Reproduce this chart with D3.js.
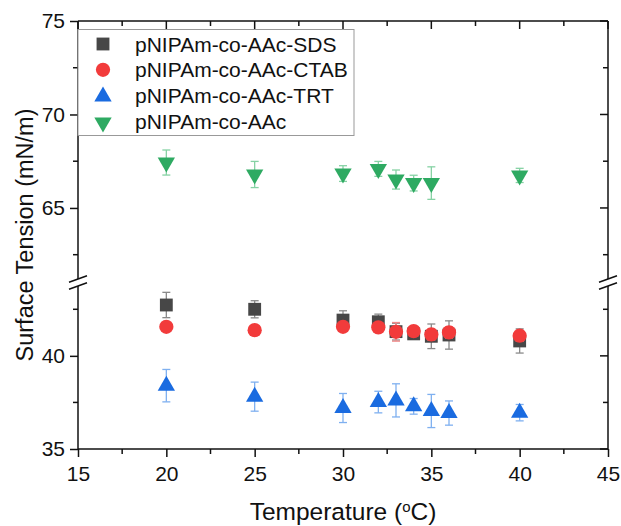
<!DOCTYPE html>
<html>
<head>
<meta charset="utf-8">
<script src="https://cdn.jsdelivr.net/npm/d3@7"></script>
<style>
  html, body { margin: 0; padding: 0; background: #fff; }
  svg text { font-family: "Liberation Sans", Arial, sans-serif; fill: #111; }
</style>
</head>
<body>
<svg id="chart" width="621" height="526"></svg>
<script>
// Temperatures (°C) at which surface tension was measured
const temps = [20, 25, 30, 32, 33, 34, 35, 36, 40];
const tempsAAc = [20, 25, 30, 32, 33, 34, 35, 40];

// Surface tension (mN/m) and standard deviations
const sdsValues  = [42.73, 42.50, 41.92, 41.83, 41.30, 41.18, 41.05, 41.12, 40.80];
const sdsErrors  = [0.68, 0.46, 0.50, 0.41, 0.45, 0.20, 0.66, 0.76, 0.65];
const ctabValues = [41.56, 41.38, 41.56, 41.53, 41.29, 41.33, 41.15, 41.26, 41.08];
const ctabErrors = [0.05, 0.05, 0.20, 0.15, 0.50, 0.15, 0.30, 0.30, 0.30];
const trtValues  = [38.40, 37.81, 37.20, 37.52, 37.61, 37.29, 37.04, 36.93, 36.95];
const trtErrors  = [0.87, 0.78, 0.78, 0.58, 0.89, 0.42, 0.89, 0.65, 0.44];
const aacValues  = [67.43, 66.79, 66.84, 67.09, 66.52, 66.33, 66.33, 66.74];
const aacErrors  = [0.67, 0.70, 0.42, 0.40, 0.51, 0.42, 0.87, 0.38];

const seriesNames = ["pNIPAm-co-AAc-SDS", "pNIPAm-co-AAc-CTAB", "pNIPAm-co-AAc-TRT", "pNIPAm-co-AAc"];

const xTicks = [15, 20, 25, 30, 35, 40, 45];
const yTicksLower = [35, 40];
const yTicksUpper = [65, 70, 75];

const svg = d3.select("#chart");

const plotL = 78, plotR = 608, plotT = 21, plotB = 449;
const breakLowY = 286, breakHighY = 279;

const x = d3.scaleLinear().domain([15, 45]).range([plotL, plotR]);
const yLow = d3.scaleLinear().domain([35, 43.75]).range([plotB, breakLowY]);
const yHigh = d3.scaleLinear().domain([61.2, 75]).range([breakHighY, plotT]);
const y = v => v >= 61.2 ? yHigh(v) : yLow(v);

const axisColor = "#111";
const tickFont = "21px";

// Bottom axis (ticks outward)
const xAxis = d3.axisBottom(x).tickValues(xTicks).tickSize(8).tickPadding(9).tickFormat(d3.format("d"));
const gx = svg.append("g").attr("transform", `translate(0,${plotB})`).call(xAxis);
gx.select(".domain").remove();
gx.selectAll("line").attr("stroke", axisColor).attr("stroke-width", 1.5);
gx.selectAll("text").style("font-size", tickFont);
const xMinor = d3.range(17.5, 45, 5);
svg.append("g").selectAll("line").data(xMinor).join("line")
  .attr("x1", d => x(d)).attr("x2", d => x(d))
  .attr("y1", plotB).attr("y2", plotB + 5)
  .attr("stroke", axisColor).attr("stroke-width", 1.5);

// Top axis (ticks inward, no labels)
const topTicks = svg.append("g");
topTicks.selectAll("line.maj").data(xTicks).join("line").attr("class", "maj")
  .attr("x1", d => x(d)).attr("x2", d => x(d))
  .attr("y1", plotT).attr("y2", plotT + 8)
  .attr("stroke", axisColor).attr("stroke-width", 1.5);
topTicks.selectAll("line.min").data(xMinor).join("line").attr("class", "min")
  .attr("x1", d => x(d)).attr("x2", d => x(d))
  .attr("y1", plotT).attr("y2", plotT + 5)
  .attr("stroke", axisColor).attr("stroke-width", 1.5);

// Left axis: two segments with outward ticks
function leftSegment(scale, ticks, minors) {
  const ax = d3.axisLeft(scale).tickValues(ticks).tickSize(8).tickPadding(5).tickFormat(d3.format("d"));
  const g = svg.append("g").attr("transform", `translate(${plotL},0)`).call(ax);
  g.select(".domain").remove();
  g.selectAll("line").attr("stroke", axisColor).attr("stroke-width", 1.5);
  g.selectAll("text").style("font-size", tickFont);
  svg.append("g").selectAll("line").data(minors).join("line")
    .attr("x1", plotL - 5).attr("x2", plotL)
    .attr("y1", d => scale(d)).attr("y2", d => scale(d))
    .attr("stroke", axisColor).attr("stroke-width", 1.5);
}
leftSegment(yLow, yTicksLower, [37.5, 42.5]);
leftSegment(yHigh, yTicksUpper, [62.5, 67.5, 72.5]);

// Right axis: inward ticks
function rightSegment(scale, ticks, minors) {
  svg.append("g").selectAll("line").data(ticks).join("line")
    .attr("x1", plotR - 8).attr("x2", plotR)
    .attr("y1", d => scale(d)).attr("y2", d => scale(d))
    .attr("stroke", axisColor).attr("stroke-width", 1.5);
  svg.append("g").selectAll("line").data(minors).join("line")
    .attr("x1", plotR - 5).attr("x2", plotR)
    .attr("y1", d => scale(d)).attr("y2", d => scale(d))
    .attr("stroke", axisColor).attr("stroke-width", 1.5);
}
rightSegment(yLow, yTicksLower, [37.5, 42.5]);
rightSegment(yHigh, yTicksUpper, [62.5, 67.5, 72.5]);

// Frame lines
const frame = svg.append("g").attr("stroke", axisColor).attr("stroke-width", 1.5).attr("fill", "none");
frame.append("line").attr("x1", plotL).attr("x2", plotR).attr("y1", plotB).attr("y2", plotB);
frame.append("line").attr("x1", plotL).attr("x2", plotR).attr("y1", plotT).attr("y2", plotT);
[plotL, plotR].forEach(xx => {
  frame.append("line").attr("x1", xx).attr("x2", xx).attr("y1", plotT).attr("y2", breakHighY);
  frame.append("line").attr("x1", xx).attr("x2", xx).attr("y1", breakLowY).attr("y2", plotB);
  // break marks
  [breakHighY, breakLowY].forEach(by => {
    frame.append("line")
      .attr("x1", xx - 9).attr("y1", by + 3.3)
      .attr("x2", xx + 9).attr("y2", by - 3.3);
  });
});

// Axis titles
svg.append("text")
  .attr("x", (plotL + plotR) / 2).attr("y", 520)
  .attr("text-anchor", "middle").style("font-size", "24.5px")
  .html('Temperature (<tspan baseline-shift="super" font-size="15px">o</tspan>C)');

svg.append("text")
  .attr("transform", `translate(33,${(plotT + plotB) / 2}) rotate(-90)`)
  .attr("text-anchor", "middle").style("font-size", "23.5px")
  .text("Surface Tension (mN/m)");

// Marker shapes
const sym = {
  square: d3.symbol().type(d3.symbolSquare).size(165),
  circle: d3.symbol().type(d3.symbolCircle).size(160),
  triUp: d3.symbol().type(d3.symbolTriangle).size(130),
};

const series = [
  { name: seriesNames[0], xs: temps, vals: sdsValues, errs: sdsErrors, color: "#474747", err: "#8a8a8a", shape: "square", rot: 0 },
  { name: seriesNames[1], xs: temps, vals: ctabValues, errs: ctabErrors, color: "#f23b3b", err: "#f08a8a", shape: "circle", rot: 0 },
  { name: seriesNames[2], xs: temps, vals: trtValues, errs: trtErrors, color: "#1a6be0", err: "#7fb0f0", shape: "triUp", rot: 0 },
  { name: seriesNames[3], xs: tempsAAc, vals: aacValues, errs: aacErrors, color: "#2eaa62", err: "#86d2a4", shape: "triUp", rot: 180 },
];

series.forEach(s => {
  const pts = s.xs.map((t, i) => ({ t, v: s.vals[i], e: s.errs[i] }));
  const g = svg.append("g");
  const eb = g.append("g").attr("stroke", s.err).attr("stroke-width", 1.3);
  pts.forEach(p => {
    const cx = x(p.t), y1 = y(p.v + p.e), y2 = y(p.v - p.e);
    eb.append("line").attr("x1", cx).attr("x2", cx).attr("y1", y1).attr("y2", y2);
    eb.append("line").attr("x1", cx - 4).attr("x2", cx + 4).attr("y1", y1).attr("y2", y1);
    eb.append("line").attr("x1", cx - 4).attr("x2", cx + 4).attr("y1", y2).attr("y2", y2);
  });
  g.selectAll("path.m").data(pts).join("path").attr("class", "m")
    .attr("d", sym[s.shape]())
    .attr("transform", p => `translate(${x(p.t)},${y(p.v)}) rotate(${s.rot})`)
    .attr("fill", s.color);
});

// Legend
const lg = svg.append("g");
lg.append("rect").attr("x", plotL).attr("y", 29.5).attr("width", 276).attr("height", 106)
  .attr("fill", "#fff").attr("stroke", "#999").attr("stroke-width", 1);
series.forEach((s, i) => {
  const ly = 44 + i * 25.8;
  lg.append("path").attr("d", sym[s.shape]())
    .attr("transform", `translate(103,${ly + (s.shape === "triUp" ? 1 : 0)}) rotate(${s.rot})`)
    .attr("fill", s.color);
  lg.append("text").attr("x", 135).attr("y", ly + 7.5).style("font-size", "21px").text(s.name);
});
</script>
</body>
</html>
